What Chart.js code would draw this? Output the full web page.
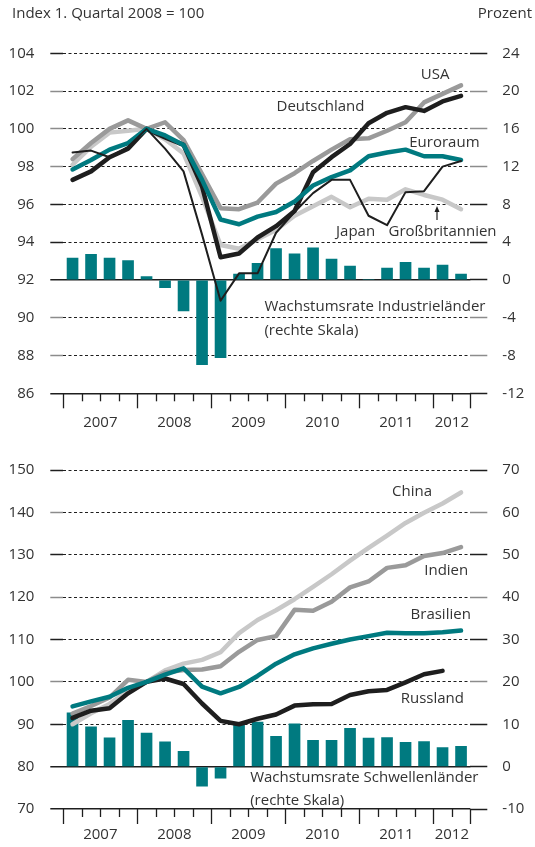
<!DOCTYPE html>
<html>
<head>
<meta charset="utf-8">
<script src="https://cdn.jsdelivr.net/npm/chart.js@4"></script>
<style>
  body { margin: 0; background: #fff; width: 535px; height: 847px; overflow: hidden; }
  canvas { position: absolute; left: 0; display: block; }
  #top { top: 0; }
  #bottom { top: 440px; }
</style>
</head>
<body>
<canvas id="top" width="535" height="440"></canvas>
<canvas id="bottom" width="535" height="407"></canvas>
<script>
// ---- data -----------------------------------------------------------
var quarters = ['2007Q1','2007Q2','2007Q3','2007Q4','2008Q1','2008Q2','2008Q3','2008Q4',
                '2009Q1','2009Q2','2009Q3','2009Q4','2010Q1','2010Q2','2010Q3','2010Q4',
                '2011Q1','2011Q2','2011Q3','2011Q4','2012Q1','2012Q2'];
var yearLabels = ['2007','2008','2009','2010','2011','2012'];
var yearLabelIdx = [1, 5, 9, 13, 17, 20];      // label sits at the right edge of this quarter
var yearBounds = [0, 4, 8, 12, 16, 20, 22];    // long tick marks

// industrial countries, index 2008Q1 = 100
var deutschland = [97.3, 97.75, 98.5, 98.95, 100, 99.55, 99.15, 96.95, 93.2, 93.4, 94.25, 94.85,
                   95.65, 97.7, 98.5, 99.2, 100.3, 100.85, 101.15, 100.95, 101.45, 101.75];
var usa         = [98.4, 99.25, 100.0, 100.45, 100, 100.35, 99.4, 97.6, 95.8, 95.75, 96.1, 97.1,
                   97.65, 98.3, 98.9, 99.45, 99.5, 99.9, 100.35, 101.4, 101.85, 102.3];
var euroraum    = [97.85, 98.35, 98.9, 99.25, 100, 99.65, 99.15, 97.3, 95.2, 94.95, 95.35, 95.6,
                   96.15, 97.0, 97.45, 97.8, 98.55, 98.75, 98.9, 98.55, 98.55, 98.35];
var japan       = [98.75, 98.85, 98.5, 99.05, 100, 98.95, 97.75, 94.4, 90.9, 92.35, 92.35, 94.5,
                   95.6, 96.6, 97.3, 97.3, 95.4, 94.9, 96.65, 96.7, 98.0, 98.3];
var uk          = [98.1, 99.05, 99.8, 99.9, 100, 99.45, 98.7, 96.4, 93.85, 93.65, 94.15, 94.65,
                   95.4, 95.9, 96.4, 95.85, 96.3, 96.25, 96.8, 96.5, 96.25, 95.75];
var growthIndustrie = [2.35, 2.75, 2.35, 2.1, 0.4, -0.85, -3.3, -9.0, -8.25, 0.65, 1.8, 3.35,
                       2.8, 3.45, 2.25, 1.5, 0.1, 1.3, 1.9, 1.3, 1.6, 0.65];

// emerging markets, index 2008Q1 = 100
var china     = [90.0, 92.6, 94.8, 97.9, 100, 102.7, 104.3, 105.2, 107.0, 111.5, 114.6, 116.9,
                 119.5, 122.4, 125.4, 128.6, 131.6, 134.5, 137.5, 139.9, 142.1, 144.7];
var indien    = [92.5, 94.3, 96.3, 100.5, 100, 102.2, 102.8, 102.9, 103.7, 107.1, 109.9, 110.8,
                 117.0, 116.8, 118.9, 122.3, 123.7, 126.9, 127.5, 129.7, 130.4, 131.8];
var brasilien = [94.2, 95.4, 96.5, 98.6, 100, 101.7, 103.2, 98.9, 97.3, 98.8, 101.4, 104.3,
                 106.5, 107.9, 109.0, 110.0, 110.8, 111.6, 111.5, 111.5, 111.7, 112.1];
var russland  = [91.5, 93.2, 93.8, 97.3, 100, 100.8, 99.5, 94.9, 90.8, 90.0, 91.3, 92.3,
                 94.4, 94.7, 94.8, 96.9, 97.8, 98.1, 99.9, 101.8, 102.6, null];
var growthSchwellen = [12.75, 9.45, 6.85, 11.0, 8.0, 5.9, 3.7, -4.7, -2.8, 9.85, 10.6, 7.25,
                       10.2, 6.3, 6.3, 9.1, 6.8, 6.95, 5.8, 6.0, 4.6, 4.85];

// ---- look -----------------------------------------------------------
var FONT = '"Open Sans", sans-serif';
var TXT = '#333333';
var TEAL = '#007a80', GRAY = '#9a9a9a', LIGHT = '#c8c8c8', BLACK = '#1e1e1e';
var PLOT_LEFT = 63.3, PLOT_RIGHT = 470.3, W = 535;
var HALF_Q = (PLOT_RIGHT - PLOT_LEFT) / quarters.length / 2;

// draws the quarter tick marks under the x axis
var quarterTicks = {
  id: 'quarterTicks',
  afterDraw: function(chart) {
    var x = chart.scales.x, ctx = chart.ctx, b = chart.chartArea.bottom;
    var half = (x.getPixelForValue(1) - x.getPixelForValue(0)) / 2;
    ctx.save();
    ctx.strokeStyle = BLACK;
    ctx.lineWidth = 1.3;
    for (var k = 0; k <= quarters.length; k++) {
      var px = Math.round(x.getPixelForValue(k) - half) + 0.5;
      var len = yearBounds.indexOf(k) >= 0 ? 15 : 8;
      ctx.beginPath();
      ctx.moveTo(px, b);
      ctx.lineTo(px, b + len);
      ctx.stroke();
    }
    ctx.restore();
  }
};

// series labels, placed in data units
var textLabels = {
  id: 'textLabels',
  afterDraw: function(chart, args, opts) {
    var ctx = chart.ctx, x = chart.scales.x, y = chart.scales.y;
    ctx.save();
    ctx.fillStyle = TXT;
    ctx.font = '15px ' + FONT;
    ctx.textBaseline = 'middle';
    (opts.items || []).forEach(function(it) {
      ctx.textAlign = it.align || 'center';
      ctx.fillText(it.text, x.getPixelForValue(it.q), y.getPixelForValue(it.v));
    });
    (opts.arrows || []).forEach(function(a) {
      var px = x.getPixelForValue(a.q);
      var y0 = y.getPixelForValue(a.from), y1 = y.getPixelForValue(a.to);
      ctx.strokeStyle = BLACK;
      ctx.fillStyle = BLACK;
      ctx.lineWidth = 1.2;
      ctx.beginPath(); ctx.moveTo(px, y0); ctx.lineTo(px, y1 + 4); ctx.stroke();
      ctx.beginPath(); ctx.moveTo(px, y1); ctx.lineTo(px - 2.5, y1 + 6); ctx.lineTo(px + 2.5, y1 + 6);
      ctx.closePath(); ctx.fill();
    });
    (opts.header || []).forEach(function(h) {
      ctx.fillStyle = TXT;
      ctx.textAlign = h.align;
      ctx.fillText(h.text, h.px, h.py);
    });
    ctx.restore();
  }
};

function lineSet(label, data, color, width, order) {
  return {
    type: 'line', label: label, data: data, yAxisID: 'y',
    borderColor: color, borderWidth: width, pointRadius: 0,
    tension: 0, borderJoinStyle: 'round', borderCapStyle: 'round',
    spanGaps: false, order: order
  };
}

function makeChart(id, cfg) {
  var solid = function(c) { return c.tick && (c.tick.value === cfg.zero || c.tick.value === cfg.min); };
  var tickCol = function(c) { return cfg.grayIdx.indexOf(c.index) >= 0 ? '#8c8c8c' : BLACK; };
  new Chart(document.getElementById(id).getContext('2d'), {
    data: {
      labels: quarters,
      datasets: cfg.lines.concat([{
        type: 'bar', label: 'growth', data: cfg.bars, yAxisID: 'y1',
        backgroundColor: TEAL, barPercentage: 0.63, categoryPercentage: 1, order: 20
      }])
    },
    options: {
      responsive: false,
      animation: false,
      layout: { padding: { top: cfg.padTop, left: 0, right: 0, bottom: 0 } },
      plugins: {
        legend: { display: false },
        tooltip: { enabled: false },
        textLabels: { items: cfg.labels, arrows: cfg.arrows || [], header: cfg.header || [] }
      },
      scales: {
        x: {
          type: 'category',
          offset: true,
          grid: { display: false },
          border: { display: false },
          ticks: {
            autoSkip: false, maxRotation: 0, minRotation: 0,
            padding: cfg.xPad, labelOffset: HALF_Q, color: TXT,
            font: { family: FONT, size: 15 },
            callback: function(v, i) {
              var k = yearLabelIdx.indexOf(i);
              return k >= 0 ? yearLabels[k] : '';
            }
          },
          afterFit: function(s) { s.height = cfg.xHeight; }
        },
        y: {
          position: 'left',
          min: cfg.min, max: cfg.max,
          ticks: { stepSize: cfg.step, padding: 16, color: TXT, font: { family: FONT, size: 15 } },
          grid: {
            color: BLACK,
            lineWidth: function(c) { return solid(c) ? 1.5 : 1; },
            tickLength: 13, tickWidth: 1.5, tickColor: tickCol
          },
          border: { display: false, dash: function(c) { return solid(c) ? [] : [3, 2.5]; } },
          afterFit: function(s) { s.width = PLOT_LEFT; }
        },
        y1: {
          position: 'right',
          min: cfg.min1, max: cfg.max1,
          ticks: { stepSize: cfg.step1, padding: 15, color: TXT, font: { family: FONT, size: 15 } },
          grid: {
            drawOnChartArea: false,
            tickLength: 17, tickWidth: 1.5, tickColor: tickCol
          },
          border: { display: false },
          afterFit: function(s) { s.width = W - PLOT_RIGHT; }
        }
      }
    },
    plugins: [quarterTicks, textLabels]
  });
}

// ---- upper panel: industrial countries -------------------------------
makeChart('top', {
  min: 86, max: 104, step: 2, min1: -12, max1: 24, step1: 4, zero: 92,
  grayIdx: [1, 2, 6, 7, 8],
  padTop: 53.3, xHeight: 440 - 393.3, xPad: 12,
  bars: growthIndustrie,
  lines: [
    lineSet('Großbritannien', uk, LIGHT, 4.5, 5),
    lineSet('USA', usa, GRAY, 4.5, 4),
    lineSet('Deutschland', deutschland, BLACK, 4.5, 3),
    lineSet('Euroraum', euroraum, TEAL, 4.5, 2),
    lineSet('Japan', japan, BLACK, 2, 1)
  ],
  labels: [
    { text: 'USA', q: 19.6, v: 102.85 },
    { text: 'Deutschland', q: 13.4, v: 101.15 },
    { text: 'Euroraum', q: 20.1, v: 99.25 },
    { text: 'Japan', q: 15.3, v: 94.55 },
    { text: 'Großbritannien', q: 20.0, v: 94.55 },
    { text: 'Wachstumsrate Industrieländer', q: 10.37, v: 90.58, align: 'left' },
    { text: '(rechte Skala)', q: 10.37, v: 89.3, align: 'left' }
  ],
  arrows: [{ q: 19.7, from: 95.18, to: 95.92 }],
  header: [
    { text: 'Index 1. Quartal 2008 = 100', px: 12, py: 14, align: 'left' },
    { text: 'Prozent', px: 532, py: 14, align: 'right' }
  ]
});

// ---- lower panel: emerging markets ----------------------------------
makeChart('bottom', {
  min: 70, max: 150, step: 10, min1: -10, max1: 70, step1: 10, zero: 80,
  grayIdx: [3, 5, 7],
  padTop: 30, xHeight: 407 - 369, xPad: 9,
  bars: growthSchwellen,
  lines: [
    lineSet('China', china, LIGHT, 4.5, 4),
    lineSet('Indien', indien, GRAY, 4.5, 3),
    lineSet('Russland', russland, BLACK, 4.5, 2),
    lineSet('Brasilien', brasilien, TEAL, 4.5, 1)
  ],
  labels: [
    { text: 'China', q: 18.35, v: 144.8 },
    { text: 'Indien', q: 20.2, v: 126.2 },
    { text: 'Brasilien', q: 19.9, v: 115.8 },
    { text: 'Russland', q: 19.45, v: 96.0 },
    { text: 'Wachstumsrate Schwellenländer', q: 9.6, v: 77.4, align: 'left' },
    { text: '(rechte Skala)', q: 9.6, v: 71.9, align: 'left' }
  ]
});
</script>
</body>
</html>
